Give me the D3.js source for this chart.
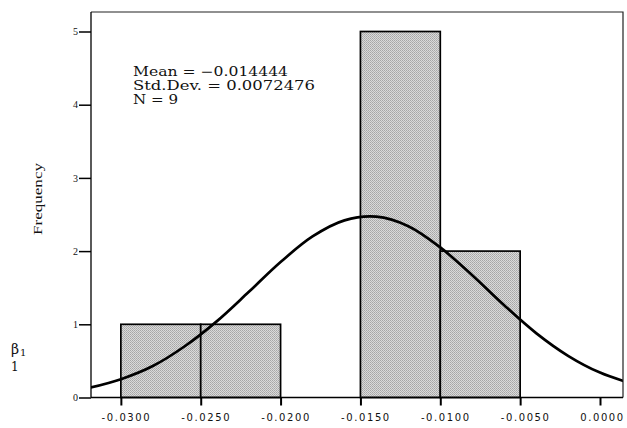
<!DOCTYPE html>
<html>
<head>
<meta charset="utf-8">
<script src="https://cdn.jsdelivr.net/npm/d3@7/dist/d3.min.js"></script>
<style>
  html, body { margin: 0; padding: 0; background: #fff; }
  svg { display: block; }
</style>
</head>
<body>
<svg id="chart" width="627" height="428"></svg>
<script>
// ---- data ----
const binStarts = [-0.030, -0.025, -0.015, -0.010];
const binEnds   = [-0.025, -0.020, -0.010, -0.005];
const binCounts = [1, 1, 5, 2];

const xTickValues = [-0.030, -0.025, -0.020, -0.015, -0.010, -0.005, 0.000];
const xTickLabels = ["-0.0300", "-0.0250", "-0.0200", "-0.0150", "-0.0100", "-0.0050", "0.0000"];
const yTickValues = [0, 1, 2, 3, 4, 5];
const yTickLabels = ["0", "1", "2", "3", "4", "5"];

// normal curve (x, frequency)
const curveX = [-0.032, -0.030, -0.028, -0.026, -0.024, -0.022, -0.020, -0.018, -0.016,
                -0.014, -0.012, -0.010, -0.008, -0.006, -0.004, -0.002, 0.000, 0.002];
const curveY = [0.13, 0.25, 0.43, 0.70, 1.04, 1.44, 1.85, 2.20, 2.42,
                2.47, 2.34, 2.05, 1.67, 1.26, 0.88, 0.57, 0.34, 0.19];

const statLines = ["Mean = \u22120.014444", "Std.Dev. = 0.0072476", "N = 9"];

// ---- layout ----
const svg = d3.select("#chart");
const pLeft = 91, pRight = 623, pTop = 12, pBottom = 397.5;

const x = d3.scaleLinear().domain([-0.03187, 0.00144]).range([pLeft, pRight]);
const y = d3.scaleLinear().domain([0, 5]).range([pBottom, 31.5]);

// pattern to mimic halftone fill
const defs = svg.append("defs");
const pat = defs.append("pattern").attr("id", "halftone")
  .attr("patternUnits", "userSpaceOnUse").attr("width", 2).attr("height", 2);
pat.append("rect").attr("width", 2).attr("height", 2).attr("fill", "#dadada");
pat.append("rect").attr("width", 1).attr("height", 1).attr("fill", "#a6a6a6");
pat.append("rect").attr("x", 1).attr("y", 1).attr("width", 1).attr("height", 1).attr("fill", "#b2b2b2");

defs.append("clipPath").attr("id", "plotclip")
  .append("rect").attr("x", pLeft).attr("y", pTop).attr("width", pRight - pLeft).attr("height", pBottom - pTop);

// bars
const bars = binStarts.map((s, i) => ({ s, e: binEnds[i], c: binCounts[i] }));
svg.append("g").selectAll("rect").data(bars).join("rect")
  .attr("x", d => x(d.s))
  .attr("width", d => x(d.e) - x(d.s))
  .attr("y", d => y(d.c))
  .attr("height", d => y(0) - y(d.c))
  .attr("fill", "url(#halftone)")
  .attr("stroke", "#000")
  .attr("stroke-width", 1.7);

// curve
const pts = curveX.map((v, i) => [v, curveY[i]]);
svg.append("path")
  .attr("clip-path", "url(#plotclip)")
  .attr("d", d3.line().x(d => x(d[0])).y(d => y(d[1])).curve(d3.curveCatmullRom)(pts))
  .attr("fill", "none")
  .attr("stroke", "#000")
  .attr("stroke-width", 2.7);

// frame (top and right)
svg.append("path")
  .attr("d", `M${pLeft},${pTop}H${pRight}V${pBottom}`)
  .attr("fill", "none").attr("stroke", "#222").attr("stroke-width", 1.2);

// x axis
const xAxis = d3.axisBottom(x).tickValues(xTickValues)
  .tickFormat((d, i) => xTickLabels[i]).tickSize(8).tickSizeOuter(0);
const gx = svg.append("g").attr("transform", `translate(0,${pBottom})`).call(xAxis);
gx.select(".domain").attr("d", `M${pLeft},0H${pRight}`).attr("stroke-width", 1.5);
gx.selectAll(".tick line").attr("stroke-width", 2);
gx.selectAll(".tick text")
  .attr("font-family", "'DejaVu Sans', sans-serif")
  .attr("font-size", 10)
  .attr("letter-spacing", "1.6px")
  .attr("fill", "#111")
  .attr("y", 16)
  .attr("dx", (d, i) => (xTickValues[i] < 0 ? 5 : 2));

// y axis
const yAxis = d3.axisLeft(y).tickValues(yTickValues)
  .tickFormat((d, i) => yTickLabels[i]).tickSize(12).tickSizeOuter(0);
const gy = svg.append("g").attr("transform", `translate(${pLeft},0)`).call(yAxis);
gy.select(".domain").attr("d", `M0,${pTop}V${pBottom}`).attr("stroke-width", 1.3);
gy.selectAll(".tick line").attr("stroke-width", 1.5);
gy.selectAll(".tick text")
  .attr("font-family", "'Liberation Serif', serif")
  .attr("font-size", 10)
  .attr("fill", "#111")
  .attr("x", -13);

// y label
svg.append("text")
  .attr("transform", "translate(42,199) rotate(-90)")
  .attr("text-anchor", "middle")
  .attr("font-family", "'Liberation Serif', serif")
  .attr("font-size", 12)
  .attr("textLength", 72)
  .attr("lengthAdjust", "spacingAndGlyphs")
  .attr("fill", "#111")
  .text("Frequency");

// stats
const statWidths = [155, 182, 45];
const statBase = [76, 90, 103.5];
svg.append("g").selectAll("text").data(statLines).join("text")
  .attr("x", 133)
  .attr("y", (d, i) => statBase[i])
  .attr("font-family", "'DejaVu Serif', serif")
  .attr("font-size", 12.5)
  .attr("textLength", (d, i) => statWidths[i])
  .attr("lengthAdjust", "spacingAndGlyphs")
  .attr("fill", "#111")
  .text(d => d);

// beta label
const beta = svg.append("text")
  .attr("x", 11).attr("y", 354)
  .attr("font-family", "'DejaVu Serif', serif")
  .attr("font-size", 14)
  .attr("fill", "#111");
beta.append("tspan").text("\u03B2");
beta.append("tspan").attr("font-size", 10).attr("dy", 2).attr("dx", 1).text("1");
svg.append("text")
  .attr("x", 11).attr("y", 371)
  .attr("font-family", "'DejaVu Serif', serif")
  .attr("font-size", 12)
  .attr("fill", "#111")
  .text("1");
</script>
</body>
</html>
